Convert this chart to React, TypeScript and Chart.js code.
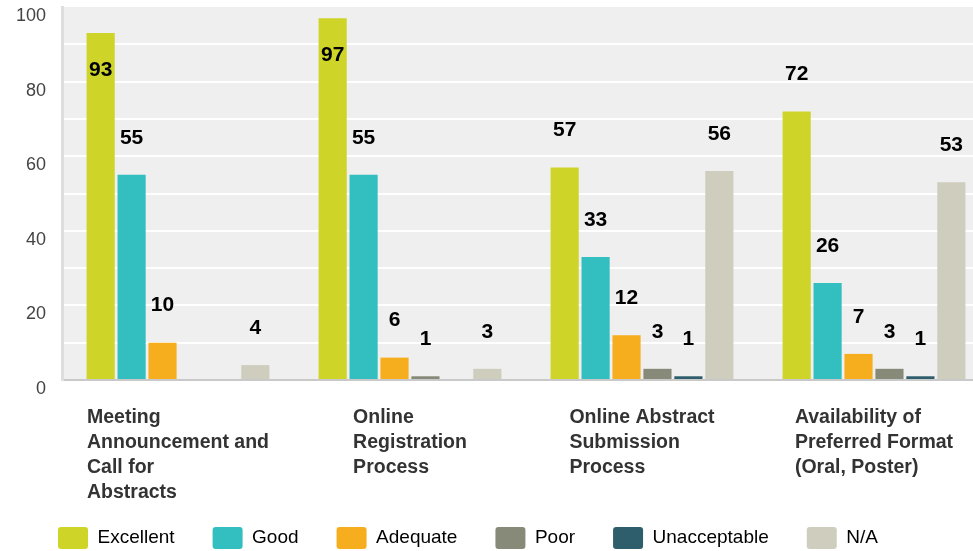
import React, { useEffect, useRef } from 'react';
import { Chart, registerables } from 'chart.js';

Chart.register(...registerables);

const FONT = '"Liberation Sans", Arial, Helvetica, sans-serif';

const categories: string[][] = [
  ['Meeting', 'Announcement and', 'Call for', 'Abstracts'],
  ['Online', 'Registration', 'Process'],
  ['Online Abstract', 'Submission', 'Process'],
  ['Availability of', 'Preferred Format', '(Oral, Poster)'],
];

const seriesNames = ['Excellent', 'Good', 'Adequate', 'Poor', 'Unacceptable', 'N/A'];
const seriesColors = ['#cfd428', '#33bec0', '#f6ae1f', '#878a78', '#2e5e6b', '#cfcdbe'];

const excellent = [93, 97, 57, 72];
const good = [55, 55, 33, 26];
const adequate = [10, 6, 12, 7];
const poor = [0, 1, 3, 3];
const unacceptable = [0, 0, 1, 1];
const notApplicable = [4, 3, 56, 53];

const seriesValues = [excellent, good, adequate, poor, unacceptable, notApplicable];

const yMin = 0;
const yMax = 100;
const yGridStep = 10;
const yLabelStep = 20;

const plotBackground = {
  id: 'plotBackground',
  beforeDraw(chart: any) {
    const { ctx, chartArea } = chart;
    ctx.save();
    ctx.fillStyle = '#efefef';
    ctx.fillRect(chartArea.left, chartArea.top, chartArea.right - chartArea.left, chartArea.bottom - chartArea.top);
    ctx.restore();
  },
};

const legendShift = {
  id: 'legendShift',
  afterLayout(chart: any) {
    const lg = chart.legend;
    if (lg) {
      lg.left += 20;
      lg.right += 20;
    }
  },
};

const categoryLabels = {
  id: 'categoryLabels',
  afterDraw(chart: any) {
    const { ctx } = chart;
    const xs = chart.scales.x;
    ctx.save();
    ctx.font = `bold 19.5px ${FONT}`;
    ctx.fillStyle = '#333333';
    ctx.textAlign = 'left';
    ctx.textBaseline = 'alphabetic';
    (chart.data.labels as string[][]).forEach((lines, i) => {
      const cx = xs.getPixelForTick(i);
      const w = Math.max(...lines.map((l) => ctx.measureText(l).width));
      const x0 = cx - w / 2;
      lines.forEach((l, j) => ctx.fillText(l, x0, xs.top + 42.5 + j * 25.3));
    });
    ctx.restore();
  },
};

const valueLabels = {
  id: 'valueLabels',
  afterDatasetsDraw(chart: any) {
    const { ctx } = chart;
    ctx.save();
    ctx.font = `bold 21px ${FONT}`;
    ctx.fillStyle = '#000000';
    ctx.textAlign = 'center';
    ctx.textBaseline = 'middle';
    chart.data.datasets.forEach((ds: any, di: number) => {
      const meta = chart.getDatasetMeta(di);
      meta.data.forEach((bar: any, i: number) => {
        const v = ds.data[i];
        if (!v) return;
        let y = bar.y - 37;
        if (y < 20) y = bar.y + 37;
        ctx.fillText(String(v), bar.x, y);
      });
    });
    ctx.restore();
  },
};

export default function App() {
  const canvasRef = useRef<HTMLCanvasElement | null>(null);

  useEffect(() => {
    if (!canvasRef.current) return;
    const chart = new Chart(canvasRef.current, {
      type: 'bar',
      data: {
        labels: categories as any,
        datasets: seriesNames.map((name, i) => ({
          label: name,
          data: seriesValues[i],
          backgroundColor: seriesColors[i],
          borderWidth: 0,
          barPercentage: 0.91,
          categoryPercentage: 0.8,
        })),
      },
      options: {
        animation: false,
        responsive: true,
        maintainAspectRatio: false,
        layout: { padding: { left: 0, top: 7, right: 0, bottom: 0 } },
        plugins: {
          tooltip: { enabled: false },
          legend: {
            position: 'bottom',
            align: 'start',
            labels: {
              boxWidth: 30,
              boxHeight: 22,
              padding: 38,
              color: '#000000',
              font: { size: 19, family: FONT },
              useBorderRadius: true,
              borderRadius: 3,
            } as any,
          },
        },
        scales: {
          x: {
            grid: { display: false },
            ticks: { display: false },
            border: { color: '#c9c9c9', width: 2 },
            afterFit: (s: any) => {
              s.height = 109;
            },
          },
          y: {
            min: yMin,
            max: yMax,
            ticks: {
              stepSize: yGridStep,
              padding: 16,
              labelOffset: 9,
              color: '#444444',
              font: { size: 18, family: FONT },
              callback: (v: any) => (Number(v) % yLabelStep === 0 ? String(v) : ''),
            },
            grid: {
              color: (c: any) =>
                c.tick && (c.tick.value === yMin || c.tick.value === yMax) ? 'rgba(0,0,0,0)' : '#ffffff',
              lineWidth: 2,
              drawTicks: false,
            },
            border: { color: '#dedede', width: 3 },
            afterFit: (s: any) => {
              s.width = 62;
              s.paddingTop = 0;
              s.paddingBottom = 0;
            },
          },
        },
      },
      plugins: [plotBackground, legendShift, categoryLabels, valueLabels],
    });
    return () => chart.destroy();
  }, []);

  return (
    <div style={{ position: 'fixed', left: 0, top: 0, width: '100vw', height: '100vh', overflow: 'hidden', background: '#ffffff' }}>
      <div style={{ position: 'relative', width: '990px', height: '559px' }}>
        <canvas ref={canvasRef} />
      </div>
    </div>
  );
}
